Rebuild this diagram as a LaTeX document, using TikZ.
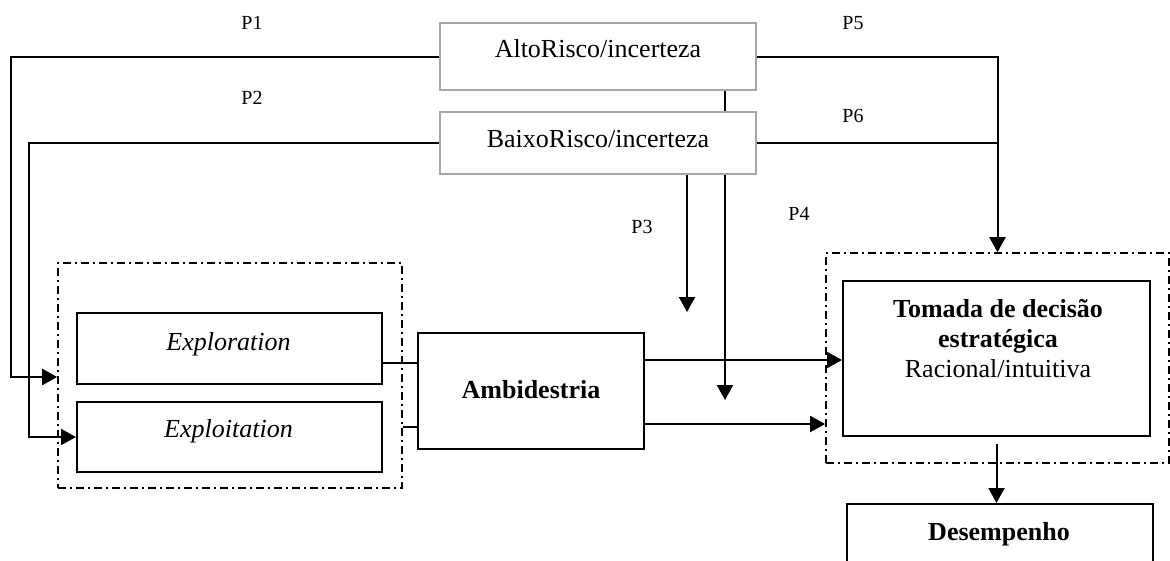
\documentclass[tikz,border=0pt]{standalone}
\usepackage{fontspec}
\setmainfont{Liberation Serif}
\usetikzlibrary{arrows.meta,calc}
\begin{document}
\begin{tikzpicture}[x=1pt,y=-1pt,
  graybox/.style={draw=black!35,line width=1.5pt,fill=white,inner sep=0pt,rectangle},
  solidbox/.style={draw=black,line width=2pt,fill=white,inner sep=0pt,rectangle},
  groupbox/.style={draw=black,line width=1.6pt,dash pattern=on 8pt off 4pt on 2pt off 4pt,inner sep=0pt,rectangle},
  conn/.style={draw=black,line width=2pt},
  arr/.style={conn,-{Triangle[length=15pt,width=16pt]}},
  maintext/.style={anchor=base,inner sep=0pt,font=\fontsize{26}{30}\selectfont},
  plabel/.style={anchor=base,inner sep=0pt,font=\fontsize{20}{22}\selectfont}]
\useasboundingbox (0,0) rectangle (1170,560);

% top boxes
\node[graybox,minimum width=316pt,minimum height=67pt] (alto) at (598,56.5) {};
\coordinate (p4x) at (725,0);
\coordinate (p4end) at (725,400);
\draw[arr] (alto.south -| p4x) -- (p4end);
\node[graybox,minimum width=316pt,minimum height=62pt] (baixo) at (598,143) {};
\node[maintext] (altoT) at (598,57) {AltoRisco/incerteza};
\node[maintext] (baixoT) at (598,147) {BaixoRisco/incerteza};

% groups
\node[groupbox,minimum width=344pt,minimum height=225pt] (groupL) at (230,375.5) {};
\node[groupbox,minimum width=343pt,minimum height=210pt] (groupR) at (997.5,358) {};

% boxes
\node[solidbox,minimum width=305pt,minimum height=71pt] (explr) at (229.5,348.5) {};
\node[solidbox,minimum width=305pt,minimum height=70pt] (explt) at (229.5,437) {};
\node[solidbox,minimum width=226pt,minimum height=116pt] (ambi) at (531,391) {};
\node[solidbox,minimum width=307pt,minimum height=155pt] (tomada) at (996.5,358.5) {};
\node[solidbox,minimum width=306pt,minimum height=80pt] (desemp) at (1000,544) {};

\node[maintext] (explrT) at (228.5,350) {\itshape Exploration};
\node[maintext] (expltT) at (228.5,437) {\itshape Exploitation};
\node[maintext] (ambiT) at (531,398) {\bfseries Ambidestria};
\node[maintext] (tomT1) at (998,317) {\bfseries Tomada de decisão};
\node[maintext] (tomT2) at (998,347) {\bfseries estratégica};
\node[maintext] (tomT3) at (998,377) {Racional/intuitiva};
\node[maintext] (desT) at (999,540) {\bfseries Desempenho};

% labels
\node[plabel] (P1) at (252,29) {P1};
\node[plabel] (P2) at (252,104) {P2};
\node[plabel] (P3) at (642,233) {P3};
\node[plabel] (P4) at (799,220) {P4};
\node[plabel] (P5) at (853,29) {P5};
\node[plabel] (P6) at (853,122) {P6};

% connectors
\coordinate (c1) at (11,377);
\coordinate (c2) at (29,437);
\draw[arr] (alto.west) -| (c1) -- (groupL.west |- c1);
\draw[arr] (baixo.west) -| (c2) -- (explt.west);
\draw[arr] (alto.east) -| (groupR.north);
\draw[conn] (baixo.east) -- (baixo.east -| groupR.north);
\coordinate (p3x) at (687,0);
\coordinate (p3end) at (687,312);
\draw[arr] (baixo.south -| p3x) -- (p3end);

\coordinate (y1) at (0,363);
\coordinate (y2) at (0,427);
\draw[conn] (explr.east |- y1) -- (ambi.west |- y1);
\draw[conn] (groupL.east |- y2) -- (ambi.west |- y2);
\coordinate (y3) at (0,360);
\coordinate (y4) at (0,424);
\draw[arr] (ambi.east |- y3) -- (tomada.west |- y3);
\draw[arr] (ambi.east |- y4) -- (groupR.west |- y4);
\draw[arr,shorten <=7pt] (tomada.south) -- (tomada.south |- desemp.north);
\end{tikzpicture}
\end{document}
